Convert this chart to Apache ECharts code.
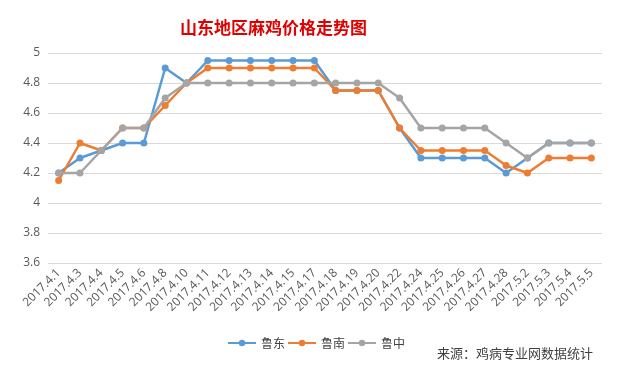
<!DOCTYPE html>
<html><head><meta charset="utf-8">
<script src="https://cdn.jsdelivr.net/npm/echarts@6/dist/echarts.min.js"></script>
<style>html,body{margin:0;padding:0;background:#fff}#c{width:619px;height:369px}</style>
</head><body><div id="c"></div>
<script>
const categories = ['2017.4.1','2017.4.3','2017.4.4','2017.4.5','2017.4.6','2017.4.8','2017.4.10','2017.4.11','2017.4.12','2017.4.13','2017.4.14','2017.4.15','2017.4.17','2017.4.18','2017.4.19','2017.4.20','2017.4.22','2017.4.24','2017.4.25','2017.4.26','2017.4.27','2017.4.28','2017.5.2','2017.5.3','2017.5.4','2017.5.5'];
const ludong = [4.2,4.3,4.35,4.4,4.4,4.9,4.8,4.95,4.95,4.95,4.95,4.95,4.95,4.75,4.75,4.75,4.5,4.3,4.3,4.3,4.3,4.2,4.3,4.4,4.4,4.4];
const lunan = [4.15,4.4,4.35,4.5,4.5,4.65,4.8,4.9,4.9,4.9,4.9,4.9,4.9,4.75,4.75,4.75,4.5,4.35,4.35,4.35,4.35,4.25,4.2,4.3,4.3,4.3];
const luzhong = [4.2,4.2,4.35,4.5,4.5,4.7,4.8,4.8,4.8,4.8,4.8,4.8,4.8,4.8,4.8,4.8,4.7,4.5,4.5,4.5,4.5,4.4,4.3,4.4,4.4,4.4];
const seriesNames = ['鲁东','鲁南','鲁中'];
const colors = ['#5B9BD5','#ED7D31','#A5A5A5'];
const cjk = '"Noto Sans CJK SC", sans-serif';
const chart = echarts.init(document.getElementById('c'));
const mk = (name, data, color) => ({
  name, type:'line', data, symbol:'circle', symbolSize:7,
  itemStyle:{color}, lineStyle:{color, width:2.5}
});
chart.setOption({
  backgroundColor:'#fff',
  animation:false,
  color: colors,
  title:{text:'山东地区麻鸡价格走势图', left:175, top:14,
    textStyle:{color:'#E00000', fontSize:17, fontWeight:'bold', fontFamily:cjk}},
  legend:{bottom:15, left:222, itemGap:2, itemWidth:28, itemHeight:8,
    textStyle:{color:'#404040', fontSize:12, fontFamily:cjk},
    data: seriesNames},
  graphic:[{type:'text', left:437, top:347, style:{text:'来源：鸡病专业网数据统计', fill:'#404040', font:'13px "Noto Sans CJK SC", sans-serif'}}],
  grid:{left:48, right:17, top:53, bottom:106, containLabel:false},
  xAxis:{type:'category', data:categories, boundaryGap:true,
    axisLine:{show:false}, axisTick:{show:false},
    axisLabel:{rotate:45, interval:0, color:'#595959', fontSize:12, margin:8, fontFamily:'"Open Sans", sans-serif'}},
  yAxis:{type:'value', min:3.6, max:5, interval:0.2,
    axisLine:{show:false}, axisTick:{show:false},
    axisLabel:{color:'#595959', fontSize:12, margin:8, fontFamily:'"Open Sans", sans-serif'},
    splitLine:{lineStyle:{color:'#D9D9D9', width:1}}},
  series:[mk(seriesNames[0], ludong, colors[0]), mk(seriesNames[1], lunan, colors[1]), mk(seriesNames[2], luzhong, colors[2])]
});
</script></body></html>
